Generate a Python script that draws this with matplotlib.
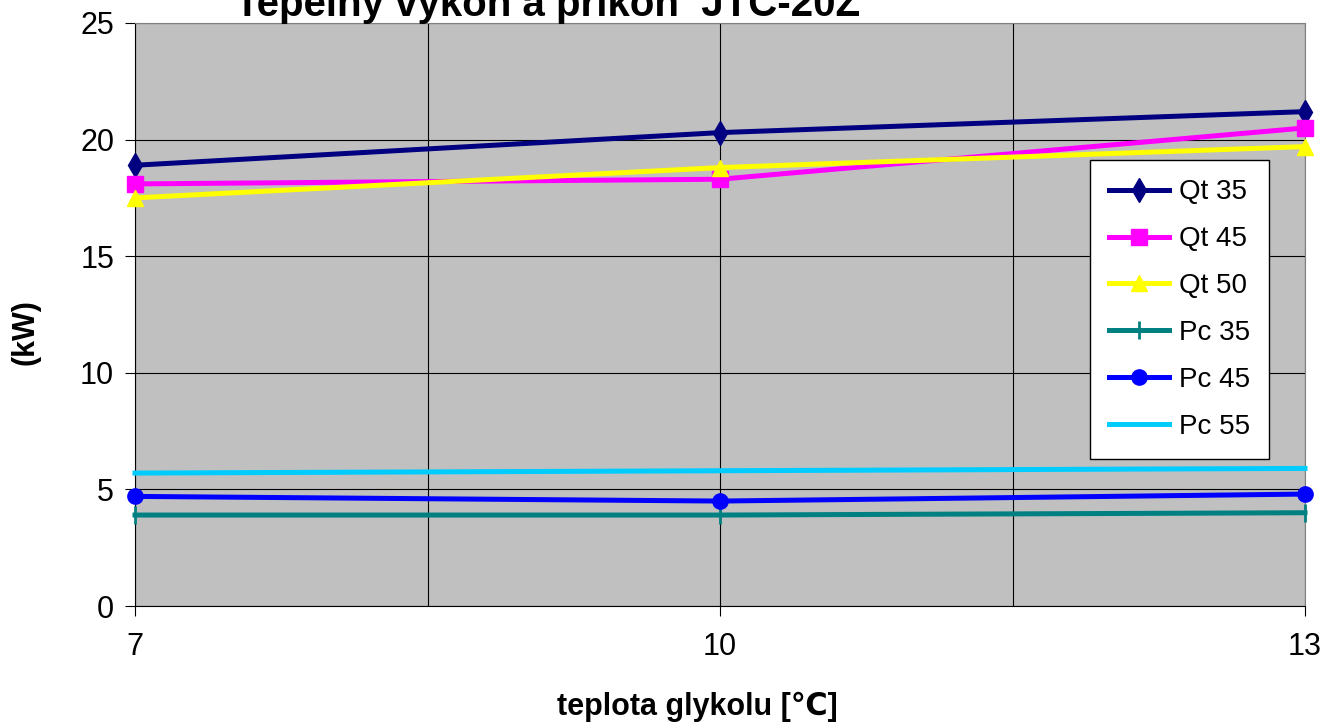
"""
Heat output and power input of JTC-20Z vs. glycol temperature.
"""
import matplotlib
matplotlib.use("Agg")
import matplotlib.pyplot as plt

plt.rcParams["font.family"] = ["Liberation Sans", "DejaVu Sans"]

glycol_temp = [7, 10, 13]
series_names = ["Qt 35", "Qt 45", "Qt 50", "Pc 35", "Pc 45", "Pc 55"]
qt35 = [18.9, 20.3, 21.2]
qt45 = [18.1, 18.3, 20.5]
qt50 = [17.5, 18.8, 19.7]
pc35 = [3.9, 3.9, 4.0]
pc45 = [4.7, 4.5, 4.8]
pc55 = [5.7, 5.8, 5.9]

STYLES = [
    ("#000080", "d", 12),
    ("#FF00FF", "s", 11),
    ("#FFFF00", "^", 11),
    ("#008080", "|", 13),
    ("#0000FF", "o", 11),
    ("#00CCFF", "", 0),
]


def main() -> None:
    fig = plt.figure(figsize=(13.26, 7.24), dpi=100)
    ax = fig.add_axes([135 / 1326, 1 - 606 / 724, 1170 / 1326, 583 / 724])
    ax.set_facecolor("#C0C0C0")

    data = [qt35, qt45, qt50, pc35, pc45, pc55]
    for name, vals, (color, marker, ms) in zip(series_names, data, STYLES):
        ax.plot(glycol_temp, vals, color=color, lw=3.6, marker=marker,
                markersize=ms, markeredgewidth=2 if marker == "|" else 1,
                label=name, clip_on=False, zorder=3)

    ax.set_xlim(7, 13)
    ax.set_ylim(0, 25)
    ax.set_xticks(glycol_temp)
    ax.set_xticks([8.5, 11.5], minor=True)
    ax.set_yticks(range(0, 26, 5))
    ax.grid(True, which="both", color="black", lw=0.8)
    ax.tick_params(axis="both", which="major", labelsize=22, length=7,
                   direction="out", color="black")
    ax.tick_params(axis="x", which="minor", length=0)
    ax.tick_params(axis="x", pad=12)
    ax.tick_params(axis="y", pad=8)
    for side in ("top", "right"):
        ax.spines[side].set_color("#808080")
    for side in ("left", "bottom"):
        ax.spines[side].set_color("black")

    ax.set_xlabel("teplota glykolu [\u2103]", fontsize=22, fontweight="bold",
                  va="center")
    ax.xaxis.set_label_coords((697 - 135) / 1170, -(707 - 606) / 583)
    ax.set_ylabel("(kW)", fontsize=22, fontweight="bold", va="center")
    ax.yaxis.set_label_coords(-(135 - 25) / 1170, (606 - 332) / 583)

    fig.text(548 / 1326, 1 - 16 / 724, "Tepelný výkon a příkon  JTC-20Z",
             ha="center", va="baseline", fontsize=29, fontweight="bold")

    leg = ax.legend(loc="upper left", bbox_to_anchor=(955 / 1170, 1 - 137 / 583),
                    fontsize=20, frameon=True, fancybox=False, handlelength=2.15,
                    borderpad=0.7, labelspacing=0.75, handletextpad=0.35,
                    borderaxespad=0)
    leg.get_frame().set_edgecolor("black")
    leg.get_frame().set_linewidth(1.0)
    leg.get_frame().set_alpha(1.0)

    fig.savefig("out.png", dpi=100)


if __name__ == "__main__":
    main()
